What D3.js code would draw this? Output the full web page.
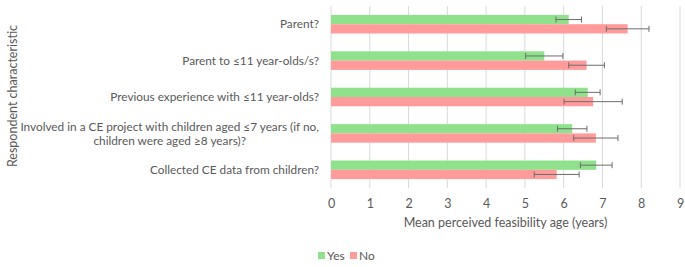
<!DOCTYPE html>
<html>
<head>
<meta charset="utf-8">
<script src="https://cdn.jsdelivr.net/npm/d3@7"></script>
<style>
  body { margin: 0; background: #fff; }
  svg text { font-family: Lato, "Liberation Sans", sans-serif; fill: #595959; }
</style>
</head>
<body>
<svg class="chart" width="685" height="267"></svg>
<script>
let categories = [
  ['Parent?'],
  ['Parent to \u226411 year-olds/s?'],
  ['Previous experience with \u226411 year-olds?'],
  ['Involved in a CE project with children aged \u22647 years (if no,', 'children were aged \u22658 years)?'],
  ['Collected CE data from children?']
];
let seriesNames = ['Yes', 'No'];
let yesValues = [6.13, 5.50, 6.62, 6.22, 6.84];
let yesErrors = [0.33, 0.48, 0.32, 0.38, 0.41];
let noValues = [7.65, 6.59, 6.76, 6.83, 5.82];
let noErrors = [0.55, 0.46, 0.75, 0.57, 0.58];
let xTicks = [0, 1, 2, 3, 4, 5, 6, 7, 8, 9];

let colors = { Yes: '#8fe28b', No: '#ff9b9b' };

let params = {
  marginLeft: 331,
  marginTop: 6,
  plotWidth: 349,
  plotHeight: 182
};

let svg = d3.select('.chart');
let g = svg.append('g')
  .attr('transform', 'translate(' + params.marginLeft + ',' + params.marginTop + ')');

let x = d3.scaleLinear().domain([0, 9]).range([0, params.plotWidth]);
let y = d3.scaleBand()
  .domain(d3.range(categories.length))
  .range([0, params.plotHeight])
  .paddingInner(0.49)
  .paddingOuter(0.245);
let ySub = d3.scaleBand().domain(seriesNames).range([0, y.bandwidth()]);

// gridlines
g.append('g')
  .selectAll('line')
  .data(xTicks)
  .join('line')
  .attr('x1', d => x(d)).attr('x2', d => x(d))
  .attr('y1', 0).attr('y2', params.plotHeight)
  .attr('stroke', '#d9d9d9')
  .attr('stroke-width', 1);

// x axis tick labels
let xAxis = d3.axisBottom(x).tickValues(xTicks).tickSize(0).tickPadding(11);
let xg = g.append('g')
  .attr('transform', 'translate(0,' + params.plotHeight + ')')
  .call(xAxis);
xg.select('.domain').remove();
xg.selectAll('text').style('font-size', '12.5px').attr('fill', '#595959');

let rows = categories.map(function (c, i) {
  return [
    { i: i, s: 'Yes', v: yesValues[i], e: yesErrors[i] },
    { i: i, s: 'No', v: noValues[i], e: noErrors[i] }
  ];
}).flat();

// bars
g.append('g')
  .selectAll('rect')
  .data(rows)
  .join('rect')
  .attr('x', x(0))
  .attr('y', d => y(d.i) + ySub(d.s))
  .attr('width', d => x(d.v) - x(0))
  .attr('height', ySub.bandwidth())
  .attr('fill', d => colors[d.s]);

// error bars
let eb = g.append('g')
  .selectAll('g')
  .data(rows)
  .join('g')
  .attr('transform', d => 'translate(0,' + (y(d.i) + ySub(d.s) + ySub.bandwidth() / 2) + ')');
eb.append('line')
  .attr('x1', d => x(d.v - d.e)).attr('x2', d => x(d.v + d.e))
  .attr('stroke', '#6d6d6d').attr('stroke-width', 1);
eb.append('line')
  .attr('x1', d => x(d.v - d.e)).attr('x2', d => x(d.v - d.e))
  .attr('y1', -3).attr('y2', 3)
  .attr('stroke', '#6d6d6d').attr('stroke-width', 1);
eb.append('line')
  .attr('x1', d => x(d.v + d.e)).attr('x2', d => x(d.v + d.e))
  .attr('y1', -3).attr('y2', 3)
  .attr('stroke', '#6d6d6d').attr('stroke-width', 1);

// category labels, multi-line ones centred under their widest line
let labels = g.append('g')
  .selectAll('text')
  .data(categories)
  .join('text')
  .style('font-size', '11.8px')
  .attr('transform', (d, i) => 'translate(-12,' + (y(i) + y.bandwidth() / 2) + ')');
labels.each(function (lines) {
  let t = d3.select(this);
  let n = lines.length;
  let spans = lines.map(function (line, k) {
    return t.append('tspan')
      .attr('y', (k - (n - 1) / 2) * 14)
      .attr('dy', '0.35em')
      .text(line);
  });
  let widths = spans.map(s => s.node().getComputedTextLength());
  let maxW = d3.max(widths);
  spans.forEach(function (s, k) {
    s.attr('x', -maxW / 2 - widths[k] / 2);
  });
});

// axis titles
svg.append('text')
  .attr('x', params.marginLeft + params.plotWidth / 2)
  .attr('y', 227)
  .attr('text-anchor', 'middle')
  .style('font-size', '12.5px')
  .text('Mean perceived feasibility age (years)');

svg.append('text')
  .attr('transform', 'translate(17,96) rotate(-90)')
  .attr('text-anchor', 'middle')
  .style('font-size', '12.5px')
  .text('Respondent characteristic');

// legend
let legend = svg.append('g')
  .attr('transform', 'translate(318,256)')
  .selectAll('g')
  .data(seriesNames)
  .join('g')
  .attr('transform', (d, i) => 'translate(' + (i * 32) + ',0)');
legend.append('rect')
  .attr('x', 0).attr('y', -4)
  .attr('width', 7).attr('height', 7)
  .attr('fill', d => colors[d]);
legend.append('text')
  .attr('x', 9).attr('dy', '0.35em')
  .style('font-size', '12px')
  .text(d => d);
</script>
</body>
</html>
